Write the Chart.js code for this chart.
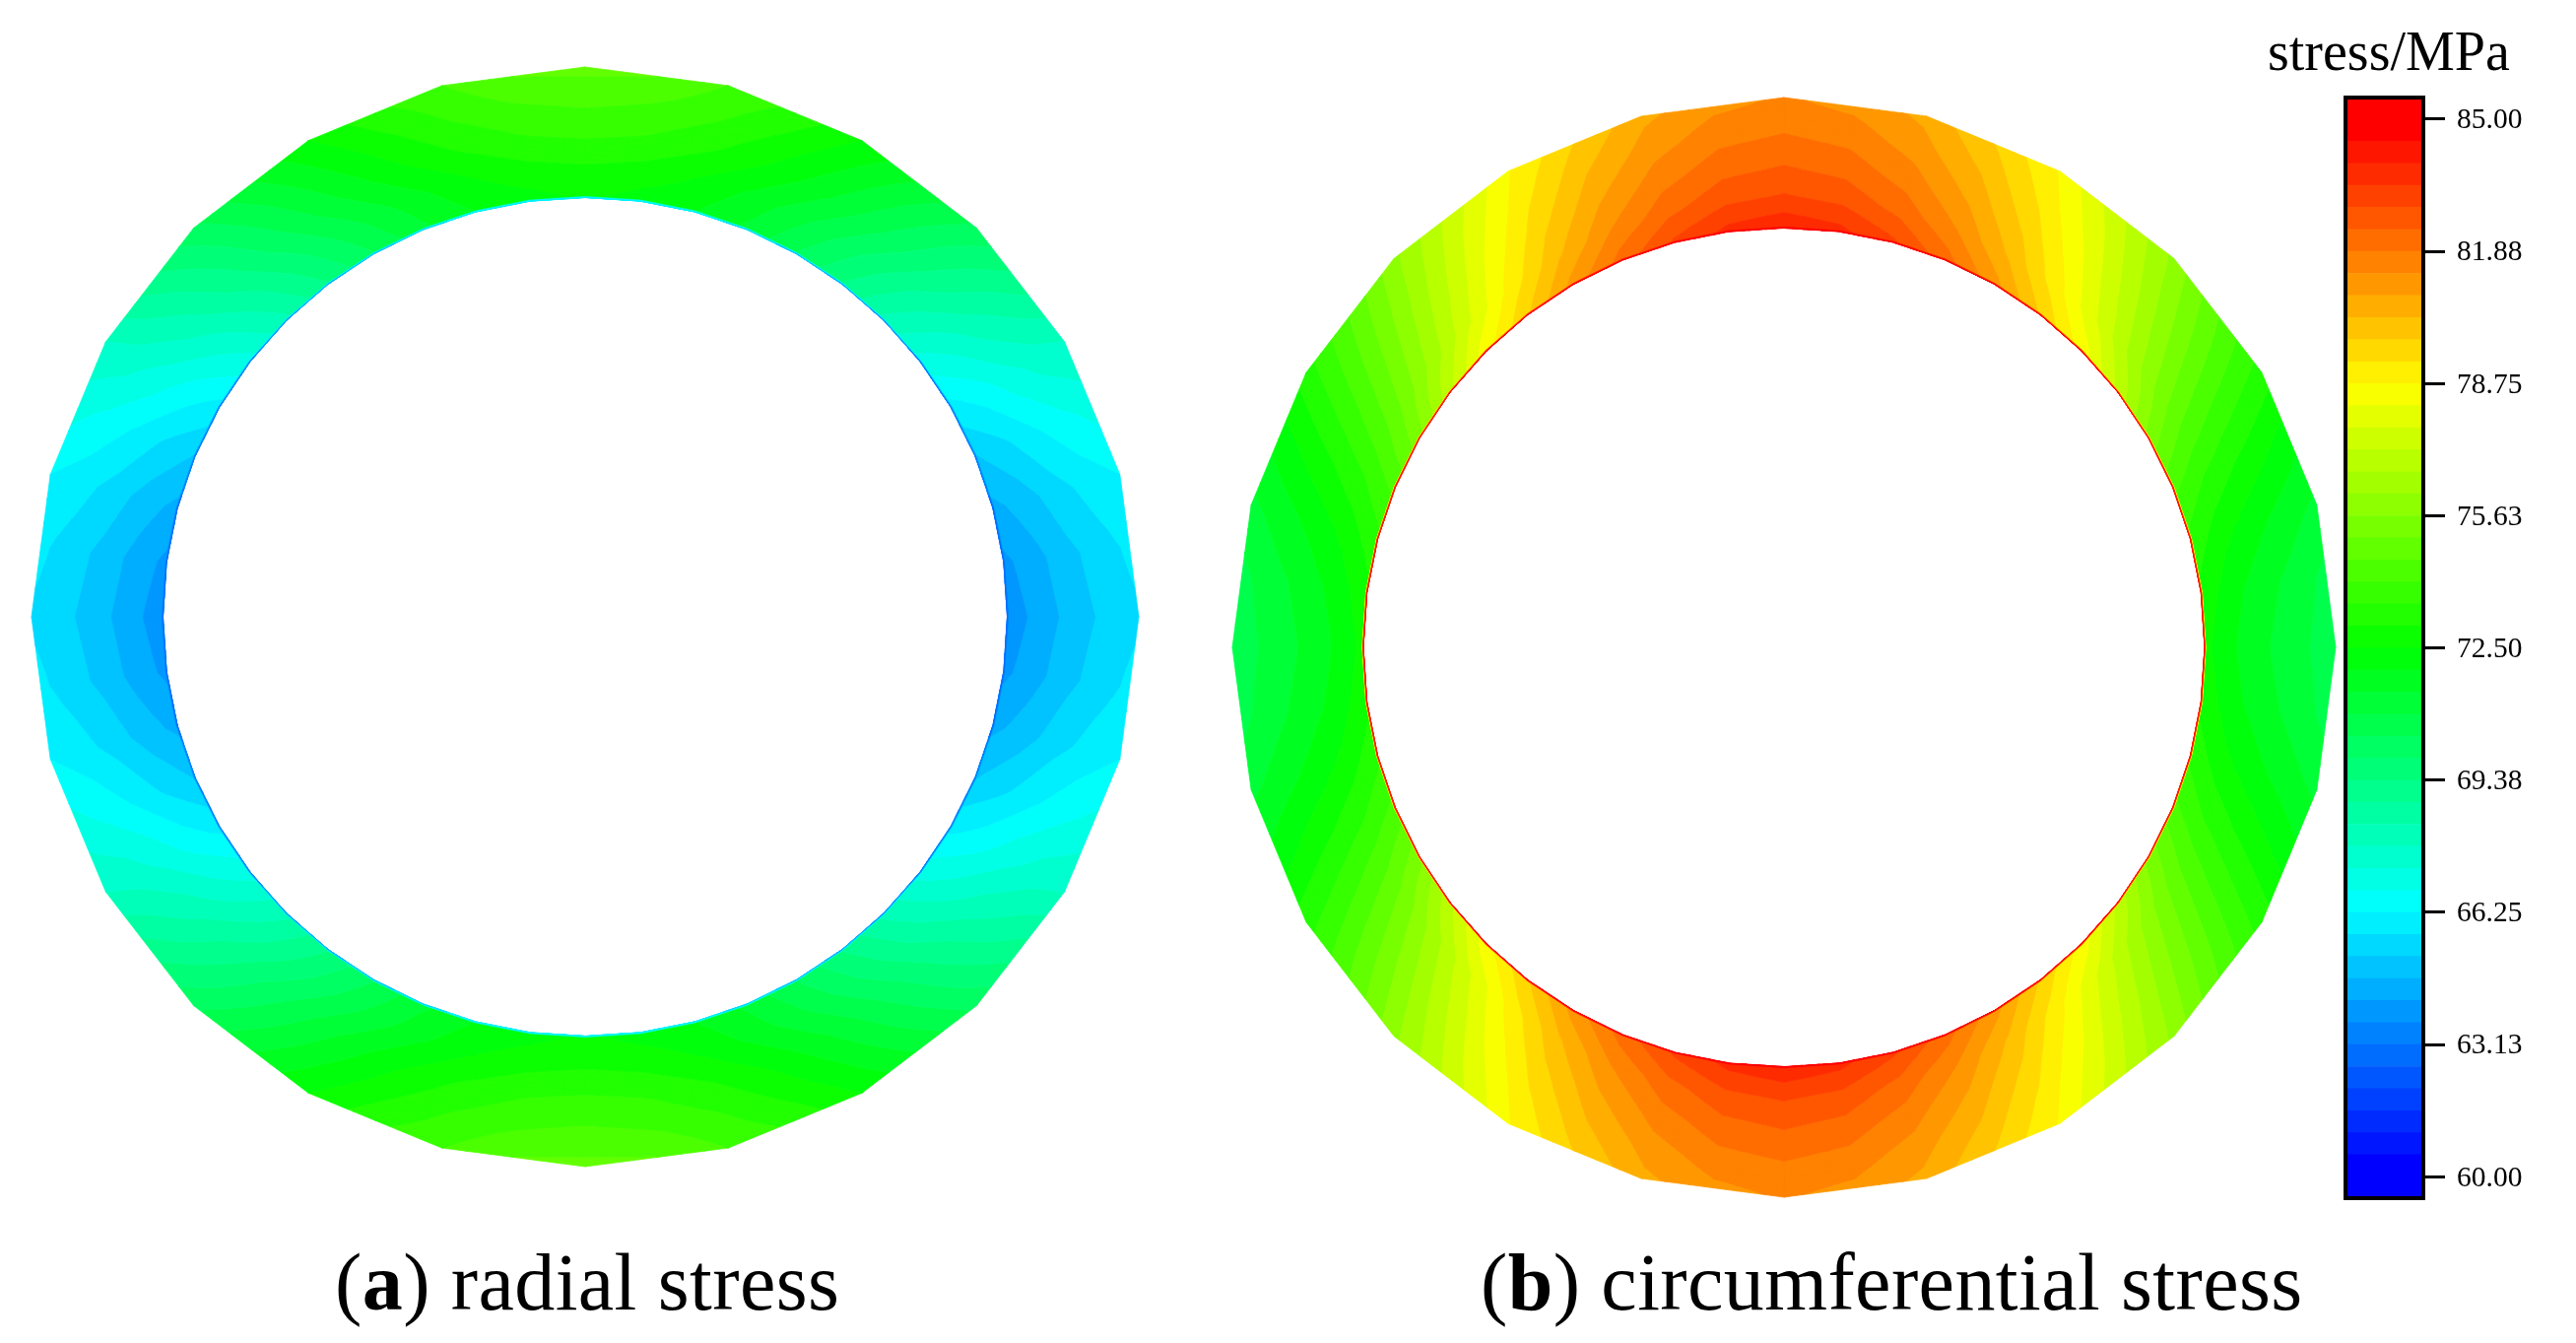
<!DOCTYPE html>
<html>
<head>
<meta charset="utf-8">
<title>stress</title>
<script src="https://cdn.jsdelivr.net/npm/chart.js@4/dist/chart.umd.min.js"></script>
<style>
  html, body { margin: 0; padding: 0; background: #fff; overflow: hidden; }
  body { width: 2615px; height: 1363px; position: relative; font-family: "Liberation Serif", serif; color: #000; }
  canvas { position: absolute; }
  #ringA { left: 4px; top: 36px; }
  #ringB { left: 1221px; top: 67px; }
  #scaleBar { left: 2369px; top: 87px; }
  .txt { position: absolute; white-space: nowrap; line-height: 1; }
  #unit { left: 2302px; top: 24px; font-size: 56px; }
  #capA { left: 340px; top: 1261px; font-size: 82px; letter-spacing: 0.4px; }
  #capB { left: 1503px; top: 1261px; font-size: 82px; letter-spacing: 0.4px; }
</style>
</head>
<body>
<canvas id="ringA" width="1180" height="1180"></canvas>
<canvas id="ringB" width="1180" height="1180"></canvas>
<canvas id="scaleBar" width="246" height="1141"></canvas>
<div class="txt" id="unit">stress/MPa</div>
<div class="txt" id="capA">(<b>a</b>) radial stress</div>
<div class="txt" id="capB">(<b>b</b>) circumferential stress</div>
<script>
// angles of the quarter ring, measured from the top (deg)
const angles = [0, 7.5, 15, 22.5, 30, 37.5, 45, 52.5, 60, 67.5, 75, 82.5, 90];

// radial stations, 0 = bore, 1 = outer edge
const stations = [0, 0.01, 0.25, 0.5, 0.75, 1];

// radial stress, one row per station
const radialSkin = [66, 66, 66, 65.5, 65, 64.5, 64, 63.5, 63.3, 63.2, 63.1, 63.1, 63.1];
const radialInner = [72.6, 72.3, 72.0, 71.35, 70.4, 69.35, 68.2, 67.1, 66.1, 65.2, 64.55, 64.05, 63.85];
const radialQ1 = [73.02, 72.87, 72.44, 71.75, 70.86, 69.82, 68.7, 67.58, 66.54, 65.65, 64.96, 64.53, 64.38];
const radialMid = [73.68, 73.53, 73.09, 72.4, 71.49, 70.43, 69.3, 68.17, 67.11, 66.2, 65.51, 65.07, 64.92];
const radialQ3 = [74.2, 74.06, 73.62, 72.91, 72.0, 70.93, 69.78, 68.63, 67.56, 66.65, 65.94, 65.5, 65.35];
const radialOuter = [74.75, 74.6, 74.06, 73.4, 72.5, 71.4, 70.3, 69.1, 67.8, 66.95, 66.25, 65.85, 65.65];

// circumferential stress
const hoopSkin = [85, 85, 85, 85, 85, 85, 84.5, 84.5, 84, 84, 84, 84, 84];
const hoopInner = [83.85, 83.6, 83.0, 82.1, 81.0, 79.7, 78.5, 77.0, 75.4, 74.2, 73.4, 72.85, 72.6];
const hoopQ1 = [82.95, 82.76, 82.21, 81.34, 80.2, 78.87, 77.45, 76.03, 74.7, 73.56, 72.69, 72.14, 71.95];
const hoopMid = [82.35, 82.16, 81.62, 80.75, 79.63, 78.31, 76.9, 75.49, 74.18, 73.05, 72.18, 71.64, 71.45];
const hoopQ3 = [81.82, 81.64, 81.1, 80.24, 79.12, 77.82, 76.42, 75.02, 73.72, 72.6, 71.74, 71.2, 71.02];
const hoopOuter = [81.4, 81.22, 80.68, 79.82, 78.7, 77.4, 76.0, 74.6, 73.3, 72.18, 71.32, 70.78, 70.6];

// colour bar
const tickValues = [60, 63.125, 66.25, 69.375, 72.5, 75.625, 78.75, 81.875, 85];
const tickLabels = ['60.00', '63.13', '66.25', '69.38', '72.50', '75.63', '78.75', '81.88', '85.00'];
const rampColors = [[0, 0, 255], [0, 255, 255], [0, 255, 0], [255, 255, 0], [255, 0, 0]];

const MIN_LEVEL = 60;
const MAX_LEVEL = 85;
const BAND_COUNT = 48;
const BAND_STEP = (MAX_LEVEL - MIN_LEVEL) / BAND_COUNT;
const BORE_R = 427;
const OUTER_R = 560;
const SEGMENTS = 48;
const CELL_SPLIT = 3;

function bandColor(k) {
  const t = k / (BAND_COUNT - 1) * (rampColors.length - 1);
  const i = Math.min(Math.floor(t), rampColors.length - 2);
  const f = t - i;
  const c = rampColors[i].map((v, n) => Math.round(v + (rampColors[i + 1][n] - v) * f));
  return `rgb(${c[0]},${c[1]},${c[2]})`;
}

function polar(r, deg) {
  const a = deg * Math.PI / 180;
  return { x: r * Math.sin(a), y: r * Math.cos(a) };
}

// the bore has 48 corners, the outside only 24; only the last station is a polygon
function meshNode(j, s) {
  const deg = j * 360 / SEGMENTS;
  if (s < 1 || j % 2 === 0) return polar(BORE_R + (OUTER_R - BORE_R) * s, deg);
  const p = polar(OUTER_R, deg - 7.5);
  const q = polar(OUTER_R, deg + 7.5);
  return { x: (p.x + q.x) / 2, y: (p.y + q.y) / 2 };
}

function quarterIndex(j) {
  const m = ((j % SEGMENTS) + SEGMENTS) % SEGMENTS;
  if (m <= 12) return m;
  if (m <= 24) return 24 - m;
  if (m <= 36) return m - 24;
  return 48 - m;
}

// keep the part of a polygon on one side of a level
function clipPoly(poly, level, keepAbove) {
  const out = [];
  for (let i = 0; i < poly.length; i++) {
    const a = poly[i];
    const b = poly[(i + 1) % poly.length];
    const aIn = keepAbove ? a.v >= level : a.v <= level;
    const bIn = keepAbove ? b.v >= level : b.v <= level;
    if (aIn) out.push(a);
    if (aIn !== bIn) {
      const f = (level - a.v) / (b.v - a.v);
      out.push({ x: a.x + (b.x - a.x) * f, y: a.y + (b.y - a.y) * f, v: level });
    }
  }
  return out;
}

function buildBands(rows) {
  const bands = [];
  for (let k = 0; k < BAND_COUNT; k++) bands.push([]);

  function addTriangle(tri) {
    const vals = tri.map(p => p.v);
    const vMin = Math.min(...vals);
    const vMax = Math.max(...vals);
    for (let k = 0; k < BAND_COUNT; k++) {
      const lo = MIN_LEVEL + k * BAND_STEP;
      const hi = lo + BAND_STEP;
      if (vMax < lo || vMin > hi) continue;
      let poly = tri;
      if (k > 0) poly = clipPoly(poly, lo, true);
      if (poly.length && k < BAND_COUNT - 1) poly = clipPoly(poly, hi, false);
      if (poly.length < 3) continue;
      poly.forEach(p => bands[k].push({ x: p.x, y: p.y }));
      bands[k].push({ x: NaN, y: NaN });
    }
  }

  function node(j, l) {
    const p = meshNode(j, stations[l]);
    return { x: p.x, y: p.y, v: rows[l][quarterIndex(j)] };
  }

  // a point inside a four-node cell
  function cellPoint(a, b, c, d, u, w) {
    const mix = key => (a[key] * (1 - u) + b[key] * u) * (1 - w) + (d[key] * (1 - u) + c[key] * u) * w;
    return { x: mix('x'), y: mix('y'), v: mix('v') };
  }

  for (let j = 0; j < SEGMENTS; j++) {
    for (let l = 0; l < stations.length - 1; l++) {
      const a = node(j, l);
      const b = node(j + 1, l);
      const c = node(j + 1, l + 1);
      const d = node(j, l + 1);
      for (let m = 0; m < CELL_SPLIT; m++) {
        for (let n = 0; n < CELL_SPLIT; n++) {
          const u0 = m / CELL_SPLIT;
          const u1 = (m + 1) / CELL_SPLIT;
          const w0 = n / CELL_SPLIT;
          const w1 = (n + 1) / CELL_SPLIT;
          const p = cellPoint(a, b, c, d, u0, w0);
          const q = cellPoint(a, b, c, d, u1, w0);
          const r = cellPoint(a, b, c, d, u1, w1);
          const s = cellPoint(a, b, c, d, u0, w1);
          addTriangle([p, q, r]);
          addTriangle([p, r, s]);
        }
      }
    }
  }
  return bands;
}

// fills the contour pieces from the points the scales have placed
const contourFill = {
  id: 'contourFill',
  beforeDatasetsDraw(chart) {
    const ctx = chart.ctx;
    ctx.save();
    ctx.lineJoin = 'round';
    chart.data.datasets.forEach((ds, i) => {
      const pts = chart.getDatasetMeta(i).data;
      ctx.fillStyle = ds.backgroundColor;
      ctx.strokeStyle = ds.backgroundColor;
      ctx.lineWidth = 0.8;
      ctx.beginPath();
      let start = true;
      pts.forEach(p => {
        if (p.skip) {
          ctx.closePath();
          start = true;
        } else if (start) {
          ctx.moveTo(p.x, p.y);
          start = false;
        } else {
          ctx.lineTo(p.x, p.y);
        }
      });
      ctx.fill();
      ctx.stroke();
    });
    ctx.restore();
  }
};

function drawRing(id, rows, lowOnTop, xSpan, ySpan) {
  let datasets = buildBands(rows)
    .map((data, k) => ({ data, backgroundColor: bandColor(k), pointRadius: 0, showLine: false }))
    .filter(ds => ds.data.length);
  if (lowOnTop) datasets = datasets.reverse();
  new Chart(document.getElementById(id), {
    type: 'scatter',
    data: { datasets },
    plugins: [contourFill],
    options: {
      responsive: false,
      animation: false,
      devicePixelRatio: 1,
      events: [],
      layout: { padding: 0 },
      plugins: { legend: { display: false }, tooltip: { enabled: false } },
      scales: {
        x: { type: 'linear', min: -xSpan, max: xSpan, display: false },
        y: { type: 'linear', min: -ySpan, max: ySpan, display: false }
      }
    }
  });
}

function drawScaleBar() {
  const axisMin = 59.448;
  const axisMax = 85.559;
  const datasets = [{
    data: [[axisMin, axisMax]],
    backgroundColor: 'rgba(0,0,0,0)',
    borderColor: '#000',
    borderWidth: 3.7,
    borderSkipped: false,
    order: -1
  }];
  for (let k = 0; k < BAND_COUNT; k++) {
    const lo = k === 0 ? axisMin : MIN_LEVEL + k * BAND_STEP;
    const hi = k === BAND_COUNT - 1 ? axisMax : MIN_LEVEL + (k + 1) * BAND_STEP;
    datasets.push({ data: [[lo, hi]], backgroundColor: bandColor(k), borderWidth: 0 });
  }
  new Chart(document.getElementById('scaleBar'), {
    type: 'bar',
    data: { labels: ['stress'], datasets },
    options: {
      responsive: false,
      animation: false,
      devicePixelRatio: 1,
      events: [],
      layout: { padding: { left: 10, top: 10, bottom: 10, right: 0 } },
      datasets: { bar: { grouped: false, barPercentage: 1, categoryPercentage: 1 } },
      plugins: { legend: { display: false }, tooltip: { enabled: false } },
      scales: {
        x: { display: false },
        y: {
          position: 'right',
          min: axisMin,
          max: axisMax,
          afterFit: axis => {
            axis.width = 153;
            axis.paddingTop = 0;
            axis.paddingBottom = 0;
          },
          afterBuildTicks: axis => { axis.ticks = tickValues.map(value => ({ value })); },
          border: { display: false },
          grid: { drawOnChartArea: false, drawTicks: true, tickLength: 20, tickWidth: 3, tickColor: '#000' },
          ticks: {
            padding: 12,
            labelOffset: 1.5,
            color: '#000',
            autoSkip: false,
            font: { family: '"Liberation Serif"', size: 29.5 },
            callback: value => tickLabels[tickValues.indexOf(value)]
          }
        }
      }
    }
  });
}

drawRing('ringA', [radialSkin, radialInner, radialQ1, radialMid, radialQ3, radialOuter], true, 587.9, 592.1);
drawRing('ringB', [hoopSkin, hoopInner, hoopQ1, hoopMid, hoopQ3, hoopOuter], false, 590, 592.1);
drawScaleBar();
</script>
</body>
</html>
